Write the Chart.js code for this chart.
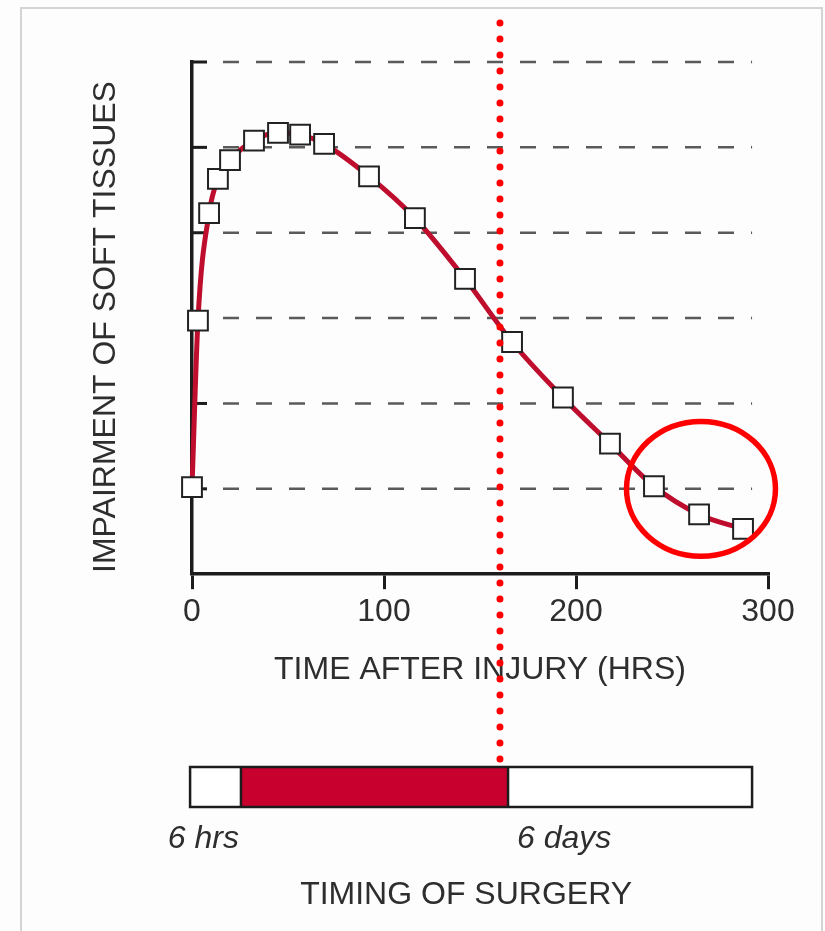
<!DOCTYPE html>
<html>
<head>
<meta charset="utf-8">
<script src="https://cdn.jsdelivr.net/npm/chart.js@4.4.1/dist/chart.umd.min.js"></script>
<style>
  html, body { margin: 0; padding: 0; background: #ffffff; }
  #wrap { width: 825px; height: 931px; }
</style>
</head>
<body>
<div id="wrap"><canvas id="chart" width="825" height="931"></canvas></div>
<script>
// values
const hoursAfterInjury = [0, 3.1, 8.9, 13.5, 19.8, 32.3, 44.8, 56.3, 68.8, 92.2, 116.1, 142.2, 166.7, 193.2, 217.7, 240.6, 264.1, 287.0];
const impairment = [1.02, 2.97, 4.23, 4.63, 4.85, 5.08, 5.17, 5.15, 5.04, 4.66, 4.17, 3.46, 2.72, 2.07, 1.53, 1.03, 0.70, 0.53];

const xTicks = [0, 100, 200, 300];
const yGridLevels = [1, 2, 3, 4, 5, 6];

// timing of surgery bar (in hours on the same x scale)
const timingBar = [-1, 291.7];
const surgeryWindow = [25.5, 164.6];
const timingLabels = ['6 hrs', '6 days'];
const surgeryCutoff = 160.4;          // red dotted line
const highlightCenter = [265.1, 1.0];  // red circle
const highlightRadius = [38.8, 0.79];  // hrs, impairment units

const FONT = '"Liberation Sans", Arial, Helvetica, sans-serif';
const TEXT = '#2e2e2e';
const AXIS = '#1c1c1c';

const extras = {
    id: 'extras',
    beforeDraw(chart) {
        const ctx = chart.ctx;
        ctx.save();
        ctx.fillStyle = '#fdfdfd';
        ctx.fillRect(0, 0, chart.width, chart.height);
        // faint scan frame
        ctx.strokeStyle = '#d4d4d4';
        ctx.lineWidth = 2;
        ctx.beginPath();
        ctx.moveTo(21, chart.height);
        ctx.lineTo(21, 8);
        ctx.lineTo(822, 8);
        ctx.lineTo(822, chart.height);
        ctx.stroke();
        ctx.restore();
    },
    beforeDatasetsDraw(chart) {
        const ctx = chart.ctx;
        const x = chart.scales.x, y = chart.scales.y;
        const left = x.getPixelForValue(0);
        ctx.save();
        yGridLevels.forEach(v => {
            const py = y.getPixelForValue(v);
            // short inward tick
            ctx.strokeStyle = AXIS;
            ctx.lineWidth = 3;
            ctx.setLineDash([]);
            ctx.beginPath();
            ctx.moveTo(left, py);
            ctx.lineTo(left + 15, py);
            ctx.stroke();
            // dashed guide line
            ctx.strokeStyle = '#5a5a5a';
            ctx.lineWidth = 2.5;
            ctx.setLineDash([16, 17]);
            ctx.beginPath();
            ctx.moveTo(left + 31, py);
            ctx.lineTo(x.getPixelForValue(timingBar[1]), py);
            ctx.stroke();
        });
        ctx.restore();
    },
    afterDraw(chart) {
        const ctx = chart.ctx;
        const x = chart.scales.x, y = chart.scales.y;
        ctx.save();

        // timing of surgery bar
        const barTop = 767, barH = 40;
        const b0 = x.getPixelForValue(timingBar[0]);
        const b1 = x.getPixelForValue(timingBar[1]);
        const r0 = x.getPixelForValue(surgeryWindow[0]);
        const r1 = x.getPixelForValue(surgeryWindow[1]);
        ctx.fillStyle = '#ffffff';
        ctx.fillRect(b0, barTop, b1 - b0, barH);
        ctx.fillStyle = '#c8002e';
        ctx.fillRect(r0, barTop, r1 - r0, barH);
        ctx.strokeStyle = AXIS;
        ctx.lineWidth = 2.5;
        ctx.strokeRect(b0, barTop, b1 - b0, barH);
        ctx.beginPath();
        ctx.moveTo(r0, barTop); ctx.lineTo(r0, barTop + barH);
        ctx.moveTo(r1, barTop); ctx.lineTo(r1, barTop + barH);
        ctx.stroke();

        ctx.fillStyle = TEXT;
        ctx.textBaseline = 'middle';
        ctx.font = 'italic 32px ' + FONT;
        ctx.textAlign = 'right';
        ctx.fillText(timingLabels[0], r0 - 2, 839);
        ctx.textAlign = 'left';
        ctx.fillText(timingLabels[1], r1 + 9, 839);
        ctx.font = '32px ' + FONT;
        ctx.textAlign = 'center';
        ctx.fillText('TIMING OF SURGERY', (b0 + b1) / 2 - 5, 895);

        // red dotted cut-off line
        const cx = x.getPixelForValue(surgeryCutoff);
        ctx.strokeStyle = '#ff0000';
        ctx.lineWidth = 7;
        ctx.lineCap = 'round';
        ctx.setLineDash([0, 16]);
        ctx.beginPath();
        ctx.moveTo(cx, 23);
        ctx.lineTo(cx, 760);
        ctx.stroke();

        // red circle around the tail
        ctx.setLineDash([]);
        ctx.lineWidth = 5.5;
        const ex = x.getPixelForValue(highlightCenter[0]);
        const ey = y.getPixelForValue(highlightCenter[1]);
        const rx = x.getPixelForValue(highlightCenter[0] + highlightRadius[0]) - ex;
        const ry = ey - y.getPixelForValue(highlightCenter[1] + highlightRadius[1]);
        ctx.beginPath();
        ctx.ellipse(ex, ey, rx, ry, 0, 0, Math.PI * 2);
        ctx.stroke();

        ctx.restore();
    }
};

new Chart(document.getElementById('chart'), {
    type: 'line',
    data: {
        datasets: [{
            data: hoursAfterInjury.map((h, i) => ({ x: h, y: impairment[i] })),
            borderColor: '#bf0d2d',
            borderWidth: 5,
            cubicInterpolationMode: 'monotone',
            pointStyle: 'rect',
            pointRadius: 14,
            pointBackgroundColor: '#ffffff',
            pointBorderColor: '#222222',
            pointBorderWidth: 2,
            clip: false
        }]
    },
    options: {
        responsive: false,
        animation: false,
        events: [],
        layout: { padding: { left: 87, right: 57, top: 62, bottom: 242 } },
        plugins: { legend: { display: false }, tooltip: { enabled: false } },
        scales: {
            x: {
                type: 'linear',
                min: 0,
                max: 300,
                afterBuildTicks: s => { s.ticks = xTicks.map(v => ({ value: v })); },
                ticks: { color: TEXT, font: { family: FONT, size: 32 }, padding: 4 },
                grid: { drawOnChartArea: false, drawTicks: true, tickLength: 15, color: AXIS, lineWidth: 3 },
                border: { color: AXIS, width: 3.5 },
                title: {
                    display: true,
                    text: 'TIME AFTER INJURY (HRS)',
                    color: TEXT,
                    font: { family: FONT, size: 32 },
                    padding: { top: 15, bottom: 0 }
                }
            },
            y: {
                min: 0,
                max: 6,
                ticks: { display: false, stepSize: 1 },
                grid: { display: false, drawTicks: false },
                border: { color: AXIS, width: 3.5 },
                title: {
                    display: true,
                    // trailing spaces nudge the rotated title down a little
                    text: 'IMPAIRMENT OF SOFT TISSUES  ',
                    color: TEXT,
                    font: { family: FONT, size: 32 },
                    padding: { top: 0, bottom: 66.6 }
                }
            }
        }
    },
    plugins: [extras]
});
</script>
</body>
</html>
